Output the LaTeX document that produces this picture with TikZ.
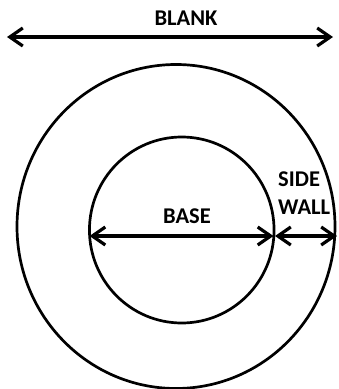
\documentclass[tikz,border=0pt]{standalone}
\usepackage{fontspec}
\setmainfont{Carlito}
\usetikzlibrary{arrows.meta}
\begin{document}
\begin{tikzpicture}[x=1pt,y=-1pt,
  ring/.style={line width=2.7pt},
  dim/.style={line width=3.4pt,{Straight Barb[length=13pt,width=18pt,line width=3.2pt]}-{Straight Barb[length=13pt,width=18pt,line width=3.2pt]}},
  lbl/.style={font=\fontsize{22.5}{26}\selectfont\bfseries,inner sep=0pt}]
\useasboundingbox (0,0) rectangle (339,389);
% circles
\draw[ring] (176,226.5) ellipse [x radius=159, y radius=162];
\draw[ring] (181.75,230) ellipse [x radius=92.3, y radius=93];
% coordinates
\coordinate (bl) at (7,37);
\coordinate (br) at (333,37);
\coordinate (basel) at (89.5,236);
\coordinate (baser) at (273.5,236);
\coordinate (swl) at (275,236);
\coordinate (swr) at (337,236);
% arrows
\draw[dim] (bl) -- (br);
\draw[dim] (basel) -- (baser);
\draw[dim] (swl) -- (swr);
% labels
\node[lbl] (blank) at (186,18) {BLANK};
\node[lbl] (base) at (187,216) {BASE};
\node[lbl,anchor=west] (side) at (278,179) {SIDE};
\node[lbl,anchor=west] (wall) at (278,207) {WALL};
\end{tikzpicture}
\end{document}
